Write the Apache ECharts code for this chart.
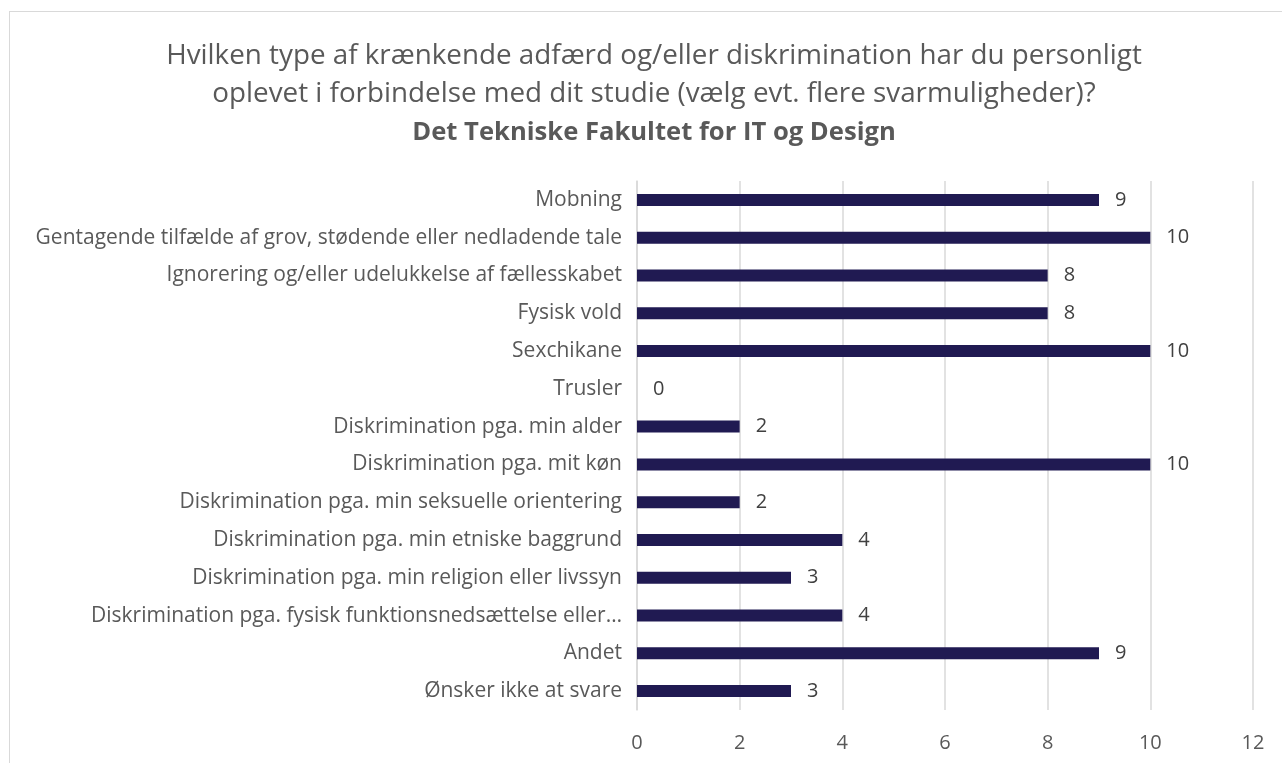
<!DOCTYPE html>
<html>
<head>
<meta charset="utf-8">
<script src="https://cdn.jsdelivr.net/npm/echarts@6/dist/echarts.min.js"></script>
<style>
  html, body { margin: 0; padding: 0; background: #fff; overflow: hidden; }
  #frame { position: absolute; left: 9px; top: 11px; width: 1400px; height: 900px; border: 1px solid #d9d9d9; }
  #main { position: absolute; left: 0; top: 0; width: 1282px; height: 763px; }
</style>
</head>
<body>
<div id="frame"></div>
<div id="main"></div>
<script>
var categories = [
    'Mobning',
    'Gentagende tilfælde af grov, stødende eller nedladende tale',
    'Ignorering og/eller udelukkelse af fællesskabet',
    'Fysisk vold',
    'Sexchikane',
    'Trusler',
    'Diskrimination pga. min alder',
    'Diskrimination pga. mit køn',
    'Diskrimination pga. min seksuelle orientering',
    'Diskrimination pga. min etniske baggrund',
    'Diskrimination pga. min religion eller livssyn',
    'Diskrimination pga. fysisk funktionsnedsættelse eller…',
    'Andet',
    'Ønsker ikke at svare'
];
var counts = [9, 10, 8, 8, 10, 0, 2, 10, 2, 4, 3, 4, 9, 3];
var xTicks = [0, 2, 4, 6, 8, 10, 12];

var titleLine1 = 'Hvilken type af krænkende adfærd og/eller diskrimination har du personligt';
var titleLine2 = 'oplevet i forbindelse med dit studie (vælg evt. flere svarmuligheder)?';
var titleLine3 = 'Det Tekniske Fakultet for IT og Design';

var myChart = echarts.init(document.getElementById('main'));
var font = '"Open Sans", sans-serif';

var option = {
    animation: false,
    textStyle: { fontFamily: font },
    title: {
        text: '{r|' + titleLine1 + '}\n{r|' + titleLine2 + '}\n{b|' + titleLine3 + '}',
        left: 654,
        textAlign: 'center',
        top: 37,
        padding: 0,
        textStyle: {
            fontWeight: 'normal',
            rich: {
                r: { fontFamily: font, fontSize: 27.8, fontWeight: 'normal', color: '#595959', lineHeight: 38 },
                b: { fontFamily: font, fontSize: 25.6, fontWeight: 'bold', color: '#595959', lineHeight: 40 }
            }
        }
    },
    grid: { left: 637, right: 29, top: 181, bottom: 53 },
    xAxis: {
        type: 'value',
        min: 0,
        max: 12,
        interval: 2,
        axisLine: { show: false },
        axisTick: { show: false },
        splitLine: { lineStyle: { color: '#d9d9d9', width: 1.5 } },
        axisLabel: {
            color: '#595959',
            fontSize: 20,
            margin: 23,
            formatter: function (v) { return xTicks.indexOf(v) >= 0 ? String(v) : ''; }
        }
    },
    yAxis: {
        type: 'category',
        inverse: true,
        data: categories,
        axisLine: { show: true, lineStyle: { color: '#d9d9d9', width: 1.5 } },
        axisTick: { show: false },
        axisLabel: { color: '#595959', fontSize: 21, margin: 15 }
    },
    series: [
        {
            name: 'Antal',
            type: 'bar',
            data: counts,
            barWidth: 12,
            itemStyle: { color: '#201a52' },
            label: {
                show: true,
                position: 'right',
                distance: 16,
                color: '#404040',
                fontSize: 20
            }
        }
    ]
};
myChart.setOption(option);
</script>
</body>
</html>
